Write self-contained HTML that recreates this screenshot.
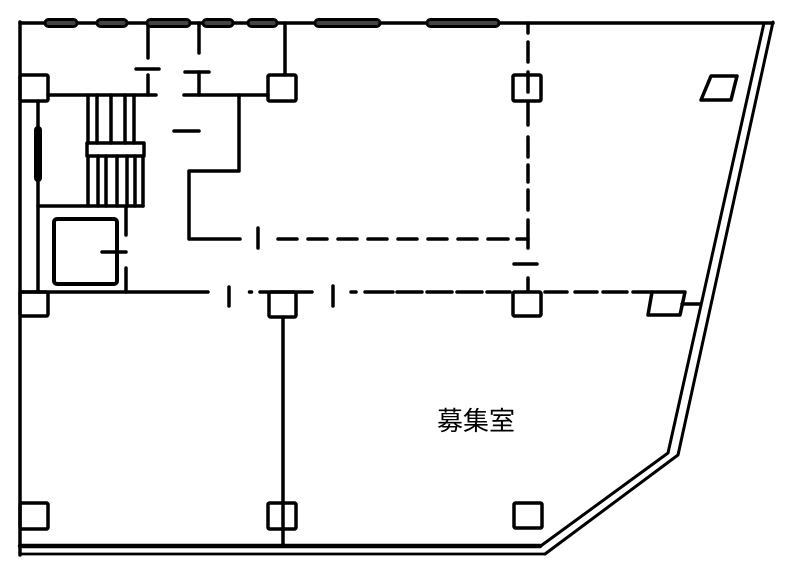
<!DOCTYPE html>
<html>
<head>
<meta charset="utf-8">
<style>
  html,body{margin:0;padding:0;background:#fff;}
  svg{display:block;}
  text{font-family:"Liberation Sans","Noto Sans CJK JP",sans-serif;}
</style>
</head>
<body>
<svg width="787" height="577" viewBox="0 0 787 577" xmlns="http://www.w3.org/2000/svg">
<g fill="none" stroke="#000" stroke-width="3.5" stroke-linecap="round" stroke-linejoin="round">
  <!-- outer walls -->
  <path d="M20 23 H773"/>
  <path d="M20 22 V555"/>
  <!-- right slanted double wall -->
  <path d="M773 22 L678 455 L545 554" stroke-width="3"/>
  <path d="M764 23 L668 453 L540 546.5" stroke-width="3"/>
  <!-- bottom double wall -->
  <path d="M20 546 H540" stroke-width="4.5"/>
  <path d="M20 554 H545" stroke-width="2.8"/>

  <!-- top-left rooms -->
  <path d="M148 23 V58"/>
  <path d="M136 69 H159"/>
  <path d="M148 75 V95"/>
  <path d="M199 23 V53"/>
  <path d="M185 72 H209"/>
  <path d="M199 72 V95"/>
  <path d="M48 95 H156"/>
  <path d="M184 95 H268"/>
  <path d="M285 23 V75"/>
  <path d="M174 131 H199"/>

  <!-- L-shaped wall -->
  <path d="M239 95 V171 H189 V239 H240"/>
  <path d="M258 228 V248"/>
  <!-- dashed horizontal y239 -->
  <path d="M278 239 H297 M308 239 H327 M338 239 H357 M368 239 H387 M398 239 H417 M428 239 H447 M458 239 H477 M488 239 H508 M517 239 H528"/>
  <!-- dashed vertical x528 -->
  <path d="M528 23 V33 M528 42 V62 M528 72 V92 M528 103 V125 M528 137 V157 M528 165 V182 M528 190 V210 M528 220 V248"/>
  <path d="M514 264 H537"/>
  <path d="M528 278 V292"/>

  <!-- columns -->
  <rect x="20" y="75" width="28" height="26" rx="1.5"/>
  <rect x="268" y="75" width="28" height="26" rx="1.5"/>
  <rect x="513" y="75" width="28" height="26" rx="1.5"/>
  <path d="M711 76 L737 76 L731 100 L701 100 Z"/>
  <rect x="20" y="292" width="28" height="24" rx="1.5"/>
  <rect x="269" y="292" width="27" height="25" rx="1.5"/>
  <rect x="513" y="292" width="28" height="24" rx="1.5"/>
  <path d="M652 292 L685 292 L680 315 L648 315 Z"/>
  <path d="M682 304 H700"/>
  <rect x="20" y="503" width="28" height="26" rx="1.5"/>
  <rect x="268" y="503" width="28" height="26" rx="1.5"/>
  <rect x="514" y="503" width="28" height="25" rx="1.5"/>

  <!-- left inner wall -->
  <path d="M38 101 V292"/>

  <!-- stairs -->
  <path d="M88 95 V143 M97 95 V143 M111 95 V143 M125 95 V143 M134 95 V143"/>
  <rect x="87" y="143" width="57" height="13"/>
  <path d="M88 156 V206 M98 156 V206 M106 156 V206 M117 156 V206 M127 156 V206 M135 156 V206 M143 156 V206"/>
  <path d="M38 206 H143"/>

  <!-- elevator -->
  <rect x="54" y="219" width="63" height="65" rx="3" stroke-width="4"/>
  <path d="M126 206 V235"/>
  <path d="M102 252 H126"/>
  <path d="M126 268 V292"/>

  <!-- middle horizontal wall y292 -->
  <path d="M20 292 H208"/>
  <path d="M229 287 V306"/>
  <path d="M249.5 292 H251.5"/>
  <path d="M260 292 H312"/>
  <path d="M283 317 V546"/>
  <path d="M333 286 V306"/>
  <path d="M351 292 H356"/>
  <path d="M365 292 H393 M397 292 H422 M427 292 H452 M457 292 H482 M487 292 H510"/>
  <path d="M545 292 H567 M575 292 H597 M603 292 H627 M633 292 H652"/>
</g>

<!-- windows on top wall -->
<g fill="#444" stroke="#000" stroke-width="3">
  <rect x="45" y="19.5" width="32" height="7" rx="3.5"/>
  <rect x="97" y="19.5" width="30" height="7" rx="3.5"/>
  <rect x="147" y="19.5" width="43" height="7" rx="3.5"/>
  <rect x="203" y="19.5" width="30" height="7" rx="3.5"/>
  <rect x="248" y="19.5" width="29" height="7" rx="3.5"/>
  <rect x="315" y="19.5" width="65" height="7" rx="3.5"/>
  <rect x="427" y="19.5" width="72" height="7" rx="3.5"/>
</g>

<!-- left wall window (filled pill) -->
<rect x="34" y="126" width="8" height="56" rx="4" fill="#000"/>

<!-- room label -->
<text x="437" y="430" font-size="26" fill="#000">募集室</text>
</svg>
</body>
</html>
